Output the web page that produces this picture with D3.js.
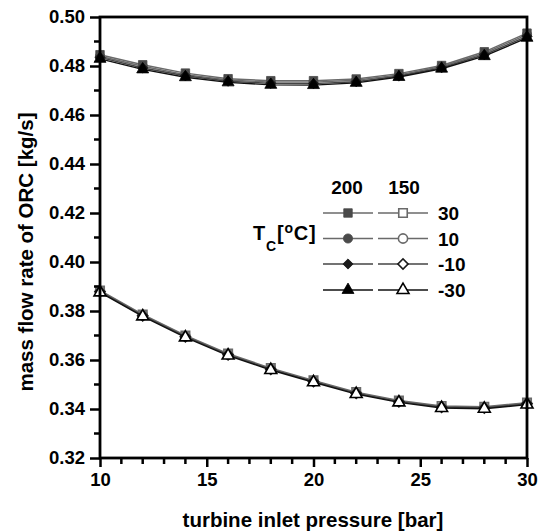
<!DOCTYPE html>
<html>
<head>
<meta charset="utf-8">
<script src="https://cdn.jsdelivr.net/npm/d3@7"></script>
<style>
  body { margin: 0; background: #fff; }
  text { font-family: "Liberation Sans", Arial, sans-serif; font-weight: bold; fill: #000; }
</style>
</head>
<body>
<div id="viz-container"></div>
<script>
// turbine inlet pressure [bar]
const pressure = [10, 12, 14, 16, 18, 20, 22, 24, 26, 28, 30];

// condensing temperatures, one line per value
const condTemps = [30, 10, -10, -30];

// mass flow, heat source 200 °C
const flow200_30  = [0.4846, 0.4805, 0.4771, 0.4748, 0.4740, 0.4740, 0.4747, 0.4769, 0.4802, 0.4858, 0.4934];
const flow200_10  = [0.4840, 0.4799, 0.4765, 0.4743, 0.4734, 0.4734, 0.4742, 0.4764, 0.4798, 0.4852, 0.4928];
const flow200_m10 = [0.4835, 0.4792, 0.4760, 0.4738, 0.4729, 0.4728, 0.4736, 0.4759, 0.4793, 0.4846, 0.4921];
const flow200_m30 = [0.4829, 0.4786, 0.4754, 0.4733, 0.4723, 0.4722, 0.4731, 0.4755, 0.4789, 0.4840, 0.4915];

// mass flow, heat source 150 °C
const flow150_30  = [0.3884, 0.3786, 0.3700, 0.3626, 0.3567, 0.3517, 0.3469, 0.3435, 0.3412, 0.3409, 0.3426];
const flow150_10  = [0.3881, 0.3783, 0.3697, 0.3623, 0.3564, 0.3514, 0.3466, 0.3432, 0.3409, 0.3406, 0.3423];
const flow150_m10 = [0.3879, 0.3781, 0.3695, 0.3621, 0.3562, 0.3512, 0.3464, 0.3430, 0.3407, 0.3404, 0.3421];
const flow150_m30 = [0.3876, 0.3778, 0.3692, 0.3618, 0.3559, 0.3509, 0.3461, 0.3427, 0.3404, 0.3401, 0.3418];

const xTicks = [10, 15, 20, 25, 30];
const yTicks = [0.32, 0.34, 0.36, 0.38, 0.40, 0.42, 0.44, 0.46, 0.48, 0.50];

const width = 550, height = 531;
const margin = {top: 17, right: 23, bottom: 73, left: 100};

const svg = d3.select("#viz-container").append("svg")
  .attr("width", width)
  .attr("height", height);

const x = d3.scaleLinear().domain([10, 30]).range([margin.left, width - margin.right]);
const y = d3.scaleLinear().domain([0.32, 0.50]).range([height - margin.bottom, margin.top]);

// marker look per condensing temperature
const markerStyle = {
  "30":  {shape: "square",   line: "#6a6a6a", fill: "#4a4a4a", open: "#6a6a6a"},
  "10":  {shape: "circle",   line: "#6a6a6a", fill: "#4a4a4a", open: "#6a6a6a"},
  "-10": {shape: "diamond",  line: "#444",    fill: "#1a1a1a", open: "#1a1a1a"},
  "-30": {shape: "triangle", line: "#111",    fill: "#000",    open: "#000"}
};

function markerPath(shape) {
  if (shape === "square") return d3.symbol(d3.symbolSquare, 72)();
  if (shape === "circle") return d3.symbol(d3.symbolCircle, 66)();
  if (shape === "diamond") return d3.symbol(d3.symbolSquare, 52)();
  return d3.symbol(d3.symbolTriangle, 62)();
}
function markerRot(shape) { return shape === "diamond" ? " rotate(45)" : ""; }

const series = [
  {src: 200, tc: 30,  values: flow200_30},
  {src: 200, tc: 10,  values: flow200_10},
  {src: 200, tc: -10, values: flow200_m10},
  {src: 200, tc: -30, values: flow200_m30},
  {src: 150, tc: 30,  values: flow150_30},
  {src: 150, tc: 10,  values: flow150_10},
  {src: 150, tc: -10, values: flow150_m10},
  {src: 150, tc: -30, values: flow150_m30}
];

const line = d3.line().x((d, i) => x(pressure[i])).y(d => y(d));

series.forEach(s => {
  const st = markerStyle[s.tc];
  const filled = s.src === 200;
  svg.append("path")
    .attr("d", line(s.values))
    .attr("fill", "none")
    .attr("stroke", st.line)
    .attr("stroke-width", 1.4);
  svg.append("g").selectAll("path")
    .data(s.values)
    .join("path")
    .attr("transform", (d, i) => `translate(${x(pressure[i])},${y(d)})` + markerRot(st.shape))
    .attr("d", markerPath(st.shape))
    .attr("fill", filled ? st.fill : "#fff")
    .attr("stroke", filled ? st.fill : st.open)
    .attr("stroke-width", filled ? 0.8 : 1.6);
});

// axes
const xAxis = d3.axisBottom(x).tickValues(xTicks).tickFormat(d3.format("d")).tickSize(9).tickPadding(6);
const yAxis = d3.axisLeft(y).tickValues(yTicks).tickFormat(d3.format(".2f")).tickSize(10).tickPadding(5);

const gx = svg.append("g").attr("transform", `translate(0,${height - margin.bottom})`).call(xAxis);
const gy = svg.append("g").attr("transform", `translate(${margin.left},0)`).call(yAxis);

// minor ticks
gx.selectAll(".minor").data(d3.range(11, 30).filter(v => v % 5 !== 0)).join("line")
  .attr("x1", d => x(d)).attr("x2", d => x(d)).attr("y1", 0).attr("y2", 6);
gy.selectAll(".minor").data(d3.range(0.33, 0.50, 0.02)).join("line")
  .attr("y1", d => y(d)).attr("y2", d => y(d)).attr("x1", 0).attr("x2", -6);

[gx, gy].forEach(g => {
  g.selectAll("path.domain").remove();
  g.selectAll("line").attr("stroke", "#000").attr("stroke-width", 2.5);
  g.selectAll("text").style("font-size", "18.5px").attr("fill", "#000");
});

// frame
svg.append("rect")
  .attr("x", margin.left).attr("y", margin.top)
  .attr("width", width - margin.left - margin.right)
  .attr("height", height - margin.top - margin.bottom)
  .attr("fill", "none").attr("stroke", "#000").attr("stroke-width", 2.8);

// axis titles
svg.append("text")
  .attr("x", (margin.left + width - margin.right) / 2 - 0.5)
  .attr("y", 527)
  .attr("text-anchor", "middle")
  .style("font-size", "20.5px")
  .text("turbine inlet pressure [bar]");

svg.append("text")
  .attr("transform", "translate(33,252) rotate(-90)")
  .attr("text-anchor", "middle")
  .style("font-size", "20.5px")
  .text("mass flow rate of ORC [kg/s]");

// legend
const legRows = [213, 238.5, 264, 290];
const legend = svg.append("g");
legend.append("text").attr("x", 347).attr("y", 194).attr("text-anchor", "middle")
  .style("font-size", "19px").text("200");
legend.append("text").attr("x", 404).attr("y", 194).attr("text-anchor", "middle")
  .style("font-size", "19px").text("150");

condTemps.forEach((tc, k) => {
  const st = markerStyle[tc];
  const yy = legRows[k];
  [[323, 373, true], [378, 428, false]].forEach(([a, b, filled]) => {
    legend.append("line").attr("x1", a).attr("x2", b).attr("y1", yy).attr("y2", yy)
      .attr("stroke", st.line).attr("stroke-width", 1.3);
    legend.append("path")
      .attr("transform", `translate(${(a + b) / 2},${yy})` + markerRot(st.shape))
      .attr("d", markerPath(st.shape))
      .attr("fill", filled ? st.fill : "#fff")
      .attr("stroke", filled ? st.fill : st.open)
      .attr("stroke-width", filled ? 0.8 : 1.6);
  });
  legend.append("text").attr("x", 438).attr("y", yy + 7).style("font-size", "19px").text(tc);
});

const tcLabel = legend.append("text").attr("x", 253).attr("y", 240)
  .style("font-size", "20px").style("letter-spacing", "0.8px");
tcLabel.append("tspan").text("T");
tcLabel.append("tspan").attr("dy", 11).style("font-size", "14px").text("C");
tcLabel.append("tspan").attr("dy", -11).text("[");
tcLabel.append("tspan").attr("dy", -7).style("font-size", "14px").text("o");
tcLabel.append("tspan").attr("dy", 7).text("C]");
</script>
</body>
</html>
